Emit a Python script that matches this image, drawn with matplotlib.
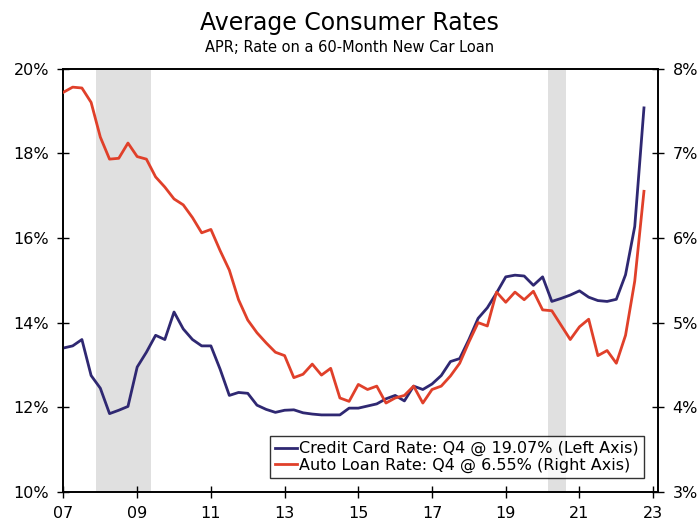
import numpy as np
import matplotlib
matplotlib.use("Agg")
import matplotlib.pyplot as plt
from matplotlib.ticker import FuncFormatter

# Quarterly data, 2007 Q1 - 2022 Q4
years = list(range(2007, 2023))
quarters = [y + q / 4 for y in years for q in range(4)]

credit_card = [
    13.40, 13.45, 13.60, 12.75,   # 2007
    12.45, 11.85, 11.93, 12.02,   # 2008
    12.95, 13.30, 13.70, 13.60,   # 2009
    14.25, 13.85, 13.60, 13.45,   # 2010
    13.45, 12.90, 12.28, 12.35,   # 2011
    12.33, 12.05, 11.95, 11.88,   # 2012
    11.93, 11.94, 11.87, 11.84,   # 2013
    11.82, 11.82, 11.82, 11.98,   # 2014
    11.98, 12.03, 12.08, 12.20,   # 2015
    12.28, 12.15, 12.50, 12.42,   # 2016
    12.55, 12.75, 13.08, 13.15,   # 2017
    13.60, 14.10, 14.35, 14.70,   # 2018
    15.08, 15.12, 15.10, 14.88,   # 2019
    15.08, 14.50, 14.57, 14.65,   # 2020
    14.75, 14.60, 14.52, 14.50,   # 2021
    14.55, 15.13, 16.27, 19.07,   # 2022
]

auto_loan = [
    7.72, 7.78, 7.77, 7.60,   # 2007
    7.19, 6.93, 6.94, 7.12,   # 2008
    6.96, 6.93, 6.72, 6.60,   # 2009
    6.46, 6.39, 6.24, 6.06,   # 2010
    6.10, 5.85, 5.62, 5.27,   # 2011
    5.03, 4.88, 4.76, 4.65,   # 2012
    4.61, 4.35, 4.39, 4.51,   # 2013
    4.38, 4.46, 4.11, 4.07,   # 2014
    4.27, 4.21, 4.25, 4.05,   # 2015
    4.11, 4.14, 4.25, 4.05,   # 2016
    4.21, 4.25, 4.37, 4.52,   # 2017
    4.77, 5.00, 4.96, 5.36,   # 2018
    5.24, 5.36, 5.27, 5.37,   # 2019
    5.15, 5.14, 4.97, 4.80,   # 2020
    4.95, 5.04, 4.61, 4.67,   # 2021
    4.52, 4.85, 5.49, 6.55,   # 2022
]

recessions = [(2007.88, 2009.375), (2020.15, 2020.64)]

navy = "#2f2872"
red = "#e0402a"

plt.rcParams["font.family"] = ["DejaVu Sans"]

fig = plt.figure(figsize=(6.99, 5.21), dpi=100)
ax = fig.add_axes([0.0908, 0.0557, 0.8505, 0.8128])
ax2 = ax.twinx()

for start, end in recessions:
    ax.axvspan(start, end, color="#e0e0e0", lw=0, zorder=0)

l1, = ax.plot(quarters, credit_card, color=navy, lw=2.0, zorder=3,
              label="Credit Card Rate: Q4 @ 19.07% (Left Axis)")
l2, = ax2.plot(quarters, auto_loan, color=red, lw=2.0, zorder=3,
               label="Auto Loan Rate: Q4 @ 6.55% (Right Axis)")

ax.set_xlim(2007, 2023.13)
ax.set_ylim(10, 20)
ax2.set_ylim(3, 8)

ax.set_xticks(np.arange(2007, 2024, 2))
ax.xaxis.set_major_formatter(FuncFormatter(lambda v, p: f"{int(v) % 100:02d}"))
ax.set_yticks(np.arange(10, 21, 2))
ax.yaxis.set_major_formatter(FuncFormatter(lambda v, p: f"{v:.0f}%"))
ax2.set_yticks(np.arange(3, 9, 1))
ax2.yaxis.set_major_formatter(FuncFormatter(lambda v, p: f"{v:.0f}%"))

for a in (ax, ax2):
    a.tick_params(direction="inout", length=8, width=1, labelsize=11.5,
                  colors="black", pad=6.5)
    for s in a.spines.values():
        s.set_linewidth(1.2)
ax.tick_params(axis="x", pad=6)

leg = ax2.legend(handles=[l1, l2], loc="lower right", bbox_to_anchor=(0.976, 0.033),
                 fontsize=11.5, frameon=True, fancybox=False, edgecolor="black",
                 handlelength=1.4, handletextpad=0.15, borderpad=0.3,
                 labelspacing=0.1, borderaxespad=0)
leg.get_frame().set_linewidth(1.0)

fig.text(0.5, 0.955, "Average Consumer Rates", ha="center", va="center", fontsize=17)
fig.text(0.5, 0.908, "APR; Rate on a 60-Month New Car Loan", ha="center", va="center", fontsize=10.5)

fig.savefig("out.png", dpi=100)
